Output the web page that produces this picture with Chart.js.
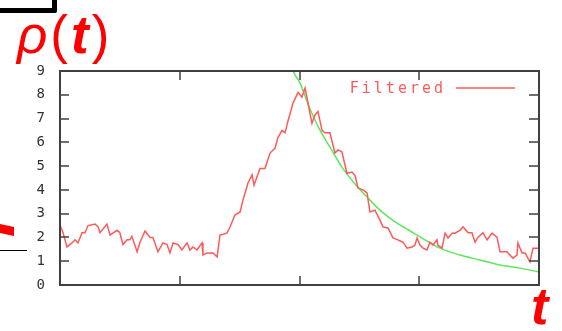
<!DOCTYPE html>
<html>
<head>
<meta charset="utf-8">
<script src="https://cdn.jsdelivr.net/npm/chart.js@4"></script>
<style>
html, body { margin: 0; padding: 0; background: #fff; }
#wrap { position: relative; width: 562px; height: 331px; overflow: hidden; }
#chart { position: absolute; left: 0; top: 0; }
.box { position: absolute; left: -10px; top: -10px; width: 57px; height: 13px; border: 5px solid #000; border-radius: 2px; }
.rho { position: absolute; left: 17px; top: 8px; font-family: 'Liberation Sans', Arial, sans-serif; font-size: 53px; line-height: 1; color: #f00; white-space: nowrap; letter-spacing: 3px; }
.rho i { font-style: italic; }
.rho b { font-style: italic; font-weight: bold; }
.tlab { position: absolute; left: 531px; top: 280px; font-family: 'Liberation Sans', Arial, sans-serif; font-size: 52px; line-height: 1; color: #f00; font-style: italic; font-weight: bold; }
.redbit { position: absolute; left: 0; top: 224px; width: 14px; height: 12px; background: #f00; clip-path: polygon(0 0, 100% 25%, 100% 100%, 0 75%); }
.blackline { position: absolute; left: 0; top: 250px; width: 27px; height: 1px; background: #000; }
</style>
</head>
<body>
<div id="wrap">
  <canvas id="chart" width="562" height="331"></canvas>
  <div class="box"></div>
  <div class="rho"><i>ρ</i>(<b>t</b>)</div>
  <div class="redbit"></div>
  <div class="blackline"></div>
  <div class="tlab">t</div>
</div>
<script>
// measured (filtered) density
var redT = [0, 1.3, 2.9, 5, 6.3, 7.5, 9.2, 10.4, 11.7, 14.6, 15.9, 16.7, 19.6, 20.9, 23.8, 25, 26.3, 28, 29.2, 30,
    32.2, 33.4, 35.5, 37.6, 38.8, 40.9, 43, 44.7, 45.9, 47.2, 49.3, 50.9, 53, 54.3, 55.5, 57.2, 59.3, 59.7, 61.4, 63.9,
    65.6, 66.8, 69.7, 71, 73, 75.2, 76.4, 78.5, 80.2, 81, 83.5, 85.6, 87.7, 89.8, 91, 92.7, 94, 95.2, 97.3, 99.4,
    101, 102.3, 103.1, 104.4, 105.2, 106.5, 107.7, 109.4, 110.6, 112.7, 114.8, 116.1, 117.7, 119.8, 121.9, 123.2, 124.4, 126.5, 128.2, 129.4,
    131.5, 133.6, 134.9, 137, 139, 141.1, 143.2, 144.9, 147, 148.2, 149.1, 150.3, 151.6, 153.2, 154.5, 155.7, 157.4, 157.8, 159.5, 160.8,
    162, 163.7, 164.9, 167, 168.3, 170.4, 172, 173.3, 174.5, 176.6, 178.3, 180.4, 182.5, 183.7, 186.6, 189.1, 190.8, 191.2, 192.9, 194.2,
    196.2, 197.5, 200];
var redRho = [2.52, 2.19, 1.6, 1.77, 1.9, 1.77, 2.2, 2.2, 2.5, 2.56, 2.45, 2.2, 2.56, 2.1, 2.3, 2.2, 1.7, 1.9, 1.9, 2.05,
    1.4, 1.8, 2.27, 2.0, 2.0, 1.4, 1.77, 1.7, 1.35, 1.77, 1.7, 1.47, 1.77, 1.47, 1.6, 1.47, 1.77, 1.26, 1.35, 1.35,
    1.18, 2.1, 2.18, 2.44, 2.94, 3.07, 3.57, 4.29, 4.63, 4.2, 4.9, 4.9, 5.55, 5.76, 6.2, 6.5, 6.4, 6.9, 7.65, 8.1,
    7.9, 8.28, 7.9, 7.2, 6.8, 7.15, 7.3, 6.5, 6.4, 6.4, 5.55, 5.68, 5.6, 4.7, 4.75, 4.6, 4.08, 4.0, 3.87, 3.07,
    3.15, 2.73, 2.44, 2.4, 1.98, 1.9, 1.8, 1.55, 1.6, 1.68, 1.98, 1.68, 1.55, 1.47, 1.8, 1.68, 1.9, 1.68, 1.55, 2.18,
    1.98, 2.18, 2.18, 2.3, 2.44, 2.2, 2.2, 1.8, 2.0, 2.2, 1.9, 2.18, 2.0, 1.4, 1.4, 1.13, 1.26, 1.77, 1.35, 1.35,
    0.97, 1.55, 1.55];

// decay fit
var greenT = [95.5, 97.3, 100.2, 104.4, 108.6, 112.7, 117.7, 123.2, 128.2, 133.6, 138.6, 144, 149.1, 158.7, 167, 175.4, 183.7, 192.1, 200];
var greenRho = [9.6, 9.0, 8.5, 7.4, 6.5, 5.8, 4.96, 4.25, 3.7, 3.15, 2.75, 2.4, 2.1, 1.55, 1.26, 1.05, 0.84, 0.71, 0.55];

var xTicks = [0, 50, 100, 150, 200];
var yTicks = [0, 1, 2, 3, 4, 5, 6, 7, 8, 9];
var legendLabel = 'Filtered';

function pts(xs, ys) {
    return xs.map(function (x, i) { return { x: x, y: ys[i] }; });
}

var gnuFrame = {
    id: 'gnuFrame',
    afterDatasetsDraw: function (chart) {
        var ctx = chart.ctx, a = chart.chartArea, xs = chart.scales.x, ys = chart.scales.y;
        ctx.save();
        ctx.strokeStyle = '#404040';
        ctx.lineWidth = 1.5;
        ctx.beginPath();
        xTicks.forEach(function (v) {
            var p = Math.round(xs.getPixelForValue(v));
            ctx.moveTo(p, a.bottom); ctx.lineTo(p, a.bottom - 9);
            ctx.moveTo(p, a.top); ctx.lineTo(p, a.top + 9);
        });
        yTicks.forEach(function (v) {
            var p = Math.round(ys.getPixelForValue(v));
            ctx.moveTo(a.left, p); ctx.lineTo(a.left + 9, p);
            ctx.moveTo(a.right, p); ctx.lineTo(a.right - 10, p);
        });
        ctx.stroke();
        ctx.lineWidth = 2;
        ctx.strokeRect(a.left, a.top, a.right - a.left, a.bottom - a.top);

        // gnuplot-style key: text then sample line
        ctx.fillStyle = '#ff5a5a';
        ctx.font = '15px "DejaVu Sans Mono"';
        ctx.letterSpacing = '3px';
        ctx.textAlign = 'right';
        ctx.textBaseline = 'middle';
        ctx.fillText(legendLabel, a.right - 93, a.top + 18);
        ctx.strokeStyle = '#ff5a5a';
        ctx.lineWidth = 1.5;
        ctx.beginPath();
        ctx.moveTo(a.right - 83, a.top + 17);
        ctx.lineTo(a.right - 24, a.top + 17);
        ctx.stroke();
        ctx.restore();
    }
};

new Chart(document.getElementById('chart').getContext('2d'), {
    type: 'line',
    data: {
        datasets: [{
            label: legendLabel,
            data: pts(redT, redRho),
            borderColor: '#ff5a5a',
            borderWidth: 1.5,
            pointRadius: 0,
            tension: 0,
            clip: 0
        }, {
            label: 'fit',
            data: pts(greenT, greenRho),
            borderColor: '#5ee65e',
            borderWidth: 1.5,
            pointRadius: 0,
            cubicInterpolationMode: 'monotone',
            clip: 0
        }]
    },
    options: {
        responsive: false,
        animation: false,
        layout: { padding: { left: 0, top: 71, right: 23, bottom: 46 } },
        plugins: { legend: { display: false }, tooltip: { enabled: false } },
        scales: {
            x: { type: 'linear', min: 0, max: 200, display: false },
            y: {
                min: 0, max: 9,
                grid: { display: false, drawTicks: false },
                border: { display: false },
                afterFit: function (s) { s.width = 60; },
                ticks: {
                    stepSize: 1,
                    padding: 15,
                    color: '#333',
                    font: { family: 'DejaVu Sans Mono', size: 14 }
                }
            }
        }
    },
    plugins: [gnuFrame]
});
</script>
</body>
</html>
